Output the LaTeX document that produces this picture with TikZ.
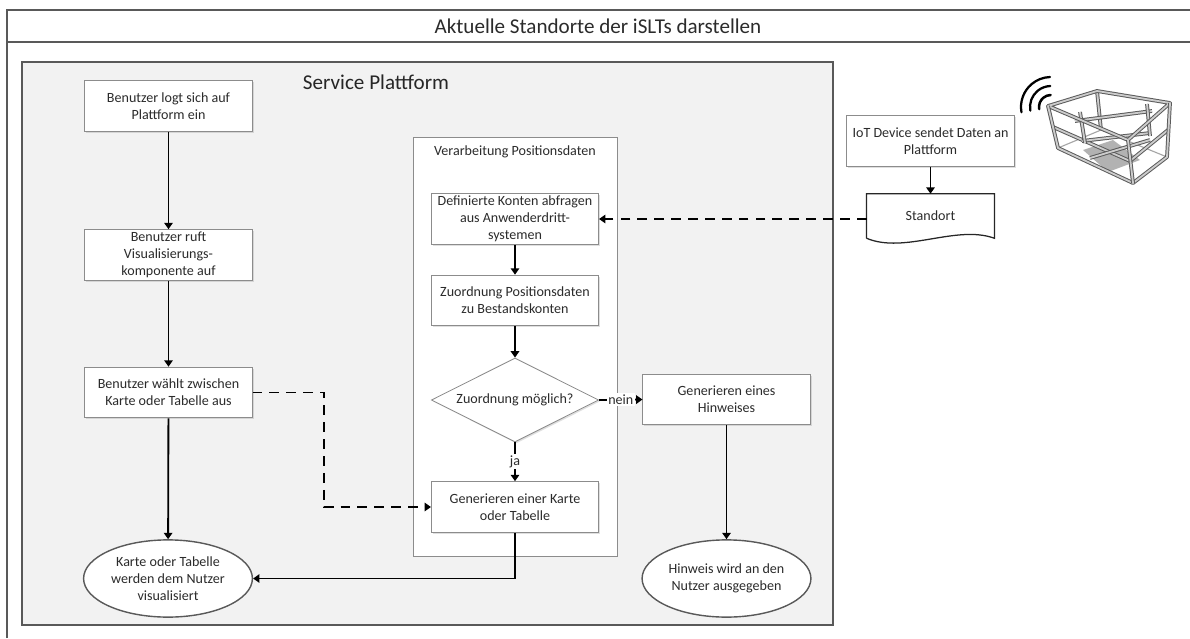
\documentclass[tikz,border=0pt]{standalone}
\usepackage{fontspec}
\setmainfont{Carlito}
\usepackage{tikz}
\usetikzlibrary{arrows.meta,calc,shapes.geometric,shadows}
\definecolor{framegray}{HTML}{595959}
\definecolor{boxgray}{HTML}{8C8C8C}
\definecolor{panelfill}{HTML}{F2F2F2}
\definecolor{textgray}{HTML}{2B2B2B}
\definecolor{devgray}{HTML}{5A5A5A}

\tikzset{
  boxfont/.style={font=\fontsize{10}{12}\selectfont, text=textgray},
  softshadow/.style={drop shadow={shadow xshift=1pt, shadow yshift=-1pt, opacity=0.25}},
  proc/.style={rectangle, draw=boxgray, line width=0.6pt, fill=white, boxfont,
    minimum width=4.18cm, minimum height=1.27cm, align=center, inner sep=1pt, softshadow},
  term/.style={ellipse, draw=framegray, line width=1pt, fill=white, boxfont,
    minimum width=4.22cm, minimum height=1.93cm, align=center, inner sep=0pt},
  decide/.style={diamond, draw=boxgray, line width=0.6pt, fill=white, boxfont,
    aspect=2, inner sep=0pt, minimum width=4.18cm, minimum height=2.1cm, softshadow},
  docnode/.style={rectangle, draw=none, boxfont, minimum width=3.18cm, minimum height=1.1cm},
  flow/.style={-{Triangle[width=6pt,length=4.5pt]}, line width=1.3pt, black},
  dashflow/.style={flow, dash pattern=on 7pt off 5pt},
  lbl/.style={fill=white, inner sep=1pt, boxfont},
  beam/.style={draw=devgray, line width=0.7pt, double=black!20, double distance=1.3pt, line join=round},
}

\begin{document}
\begin{tikzpicture}[x=0.025cm, y=-0.025cm]
  \useasboundingbox (0,0) rectangle (1190,638);

  % outer frame with title bar
  \draw[framegray, line width=1pt] (7,638) -- (7,10) -- (1190,10);
  \draw[framegray, line width=1pt] (7,42) -- (1190,42);
  \node[font=\fontsize{15}{18}\selectfont, text=textgray] (title) at (598,26) {Aktuelle Standorte der iSLTs darstellen};

  % platform area
  \filldraw[fill=panelfill, draw=framegray, line width=1pt] (22,62) rectangle (833,625);
  \node[anchor=west, font=\fontsize{15}{18}\selectfont, text=black!85] (svctitle) at (298,82) {Service Plattform};

  % processing area
  \filldraw[fill=white, draw=boxgray, line width=0.6pt, softshadow] (413,137) rectangle (617,556);
  \node[boxfont] (vtitle) at (515,152) {Verarbeitung Positionsdaten};

  % user side
  \node[proc] (b1) at (168.5,106) {Benutzer logt sich auf\\Plattform ein};
  \node[proc] (b2) at (168.5,255) {Benutzer ruft\\Visualisierungs-\\komponente auf};
  \node[proc] (b3) at (168.5,392.5) {Benutzer wählt zwischen\\Karte oder Tabelle aus};
  \node[term] (e1) at (168,578.5) {Karte oder Tabelle\\werden dem Nutzer\\visualisiert};

  % processing steps
  \node[proc] (d) at (515,219) {Definierte Konten abfragen\\aus Anwenderdritt-\\systemen};
  \node[proc] (z) at (515,300.5) {Zuordnung Positionsdaten\\zu Bestandskonten};
  \node[decide] (dia) at (515,400) {Zuordnung möglich?};
  \node[proc] (g) at (515,507) {Generieren einer Karte\\oder Tabelle};
  \node[proc] (h) at (726.5,399.5) {Generieren eines\\Hinweises};
  \node[term] (e2) at (726.5,578.5) {Hinweis wird an den\\Nutzer ausgegeben};

  % device side
  \node[proc] (iot) at (930.5,141) {IoT Device sendet Daten an\\Plattform};
  \node[docnode] (stand) at (930.5,216) {Standort};
  \draw[black!85, line width=0.9pt] (stand.south west) -- (stand.north west) -- (stand.north east) -- (stand.south east)
    .. controls ($(stand.south east)+(-38,-14)$) and ($(stand.south west)+(38,16)$) .. (stand.south west);

  % connectors
  \draw[flow] (b1) -- (b2);
  \draw[flow] (b2) -- (b3);
  \draw[flow] (b3) -- (e1);
  \coordinate (split) at (324,450);
  \draw[dashflow] (b3.east) -- (b3.east -| split) -- (g.west -| split) -- (g.west);
  \draw[flow] (d) -- (z);
  \draw[flow] (z) -- (dia);
  \draw[flow] (dia.east) -- node[lbl] {nein} (h.west);
  \draw[flow] (dia.south) -- node[lbl] {ja} (g.north);
  \draw[flow] (g.south) |- (e1.east);
  \draw[flow] (h) -- (e2);
  \draw[flow] (iot) -- (stand.north);
  \draw[dashflow] (stand.west |- d.east) -- (d.east);

  % radio waves
  \foreach \r/\w in {30/1.6pt, 21/1.6pt, 12/1.8pt}
    \draw[black, line width=\w, line cap=round] (1051,107) ++(170:\r) arc (170:268:\r);

  % transport frame
  \fill[black!30] (1083,150) -- (1113,140) -- (1140,160) -- (1108,172) -- cycle;
  \draw[black!35, line width=0.8pt] (1058,148) -- (1101,130) -- (1167,157);
  \draw[beam] (1097,91) -- (1101,130);
  \draw[beam] (1053,127) -- (1130,161) -- (1168,130);
  \draw[beam] (1075,121) -- (1152,111);
  \draw[beam] (1082,141) -- (1150,133);
  \draw[beam] (1080,112) -- (1085,143);
  \draw[beam] (1147,104) -- (1150,136);
  \draw[beam] (1090,158) -- (1150,140);
  \draw[beam] (1048,106) -- (1097,91) -- (1170,103) -- (1128,140) -- cycle;
  \draw[beam] (1048,106) -- (1058,148) -- (1133,183) -- (1167,157) -- (1170,103);
  \draw[beam] (1128,140) -- (1133,183);
\end{tikzpicture}
\end{document}
